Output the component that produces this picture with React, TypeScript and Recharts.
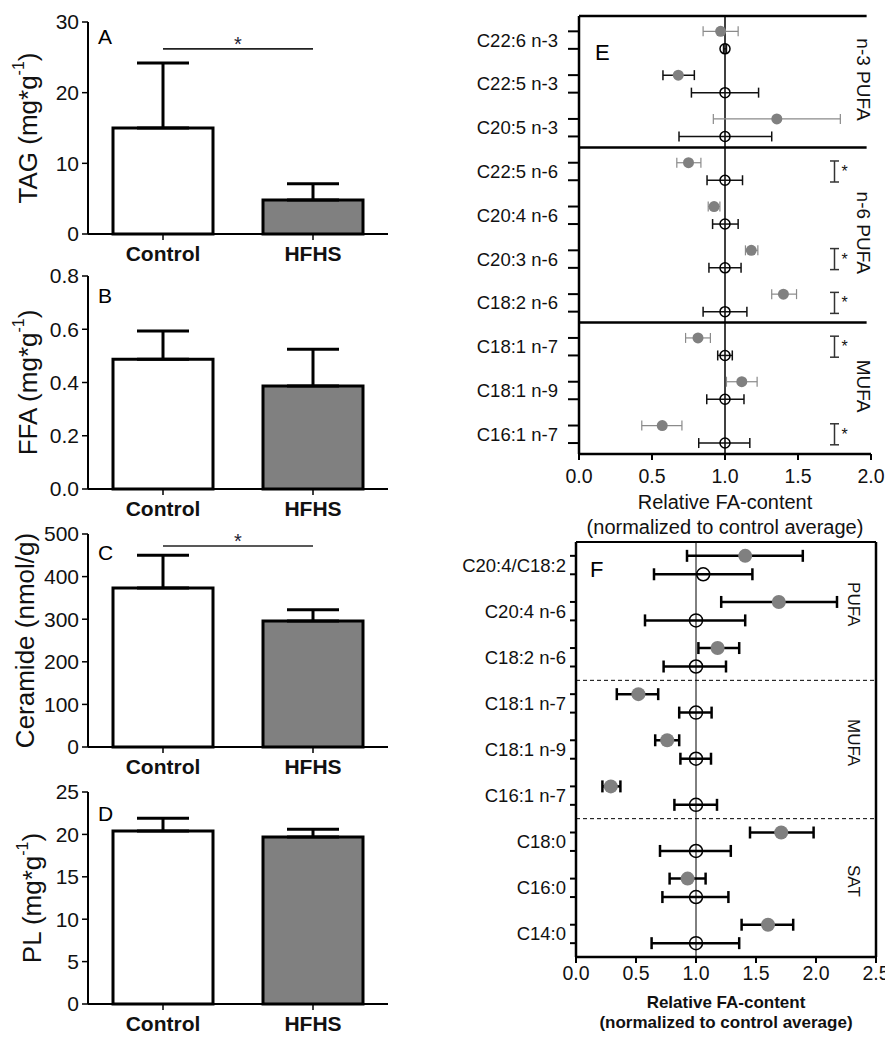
import React from 'react';
import {
  BarChart,
  Bar,
  XAxis,
  YAxis,
  Cell,
  ErrorBar,
  ReferenceLine,
  ScatterChart,
  Scatter,
  Customized,
} from 'recharts';

const FONT = '"Liberation Sans", Arial, sans-serif';
const INK = '#111';
const GREY = '#808080';

// panels A-D: group means and SEM (upper bar only)
const groups = ['Control', 'HFHS'];
const tagMean = [15.0, 4.8];
const tagSem = [9.2, 2.3];
const ffaMean = [0.487, 0.387];
const ffaSem = [0.106, 0.138];
const cerMean = [373, 296];
const cerSem = [77, 26];
const plMean = [20.4, 19.7];
const plSem = [1.5, 0.9];

// panel E: relative FA content in one lipid fraction
const eLabels = ['C22:6 n-3', 'C22:5 n-3', 'C20:5 n-3', 'C22:5 n-6', 'C20:4 n-6', 'C20:3 n-6', 'C18:2 n-6', 'C18:1 n-7', 'C18:1 n-9', 'C16:1 n-7'];
const eHfhs = [0.97, 0.68, 1.355, 0.75, 0.925, 1.18, 1.4, 0.815, 1.115, 0.57];
const eHfhsLo = [0.85, 0.575, 0.92, 0.67, 0.885, 1.14, 1.32, 0.73, 1.01, 0.43];
const eHfhsHi = [1.09, 0.79, 1.79, 0.835, 0.965, 1.225, 1.49, 0.9, 1.22, 0.705];
const eHfhsDarkBar = [false, true, false, false, false, false, false, false, false, false];
const eCtrl = [1, 1, 1, 1, 1, 1, 1, 1, 1, 1];
const eCtrlLo = [0.99, 0.77, 0.685, 0.877, 0.915, 0.89, 0.85, 0.95, 0.875, 0.82];
const eCtrlHi = [1.01, 1.23, 1.32, 1.12, 1.09, 1.11, 1.15, 1.05, 1.13, 1.17];
const eSig = [false, false, false, true, false, true, true, true, false, true];
const eGroups = [
  { name: 'n-3 PUFA', from: 0, to: 3 },
  { name: 'n-6 PUFA', from: 3, to: 7 },
  { name: 'MUFA', from: 7, to: 10 },
];

// panel F
const fLabels = ['C20:4/C18:2', 'C20:4 n-6', 'C18:2 n-6', 'C18:1 n-7', 'C18:1 n-9', 'C16:1 n-7', 'C18:0', 'C16:0', 'C14:0'];
const fHfhs = [1.41, 1.69, 1.18, 0.52, 0.76, 0.29, 1.71, 0.93, 1.6];
const fHfhsLo = [0.925, 1.21, 1.02, 0.34, 0.66, 0.22, 1.45, 0.78, 1.38];
const fHfhsHi = [1.89, 2.175, 1.36, 0.685, 0.86, 0.37, 1.98, 1.08, 1.81];
const fCtrl = [1.06, 1, 1, 1, 1, 1, 1, 1, 1];
const fCtrlLo = [0.65, 0.575, 0.73, 0.86, 0.87, 0.82, 0.7, 0.72, 0.63];
const fCtrlHi = [1.47, 1.41, 1.25, 1.13, 1.125, 1.175, 1.29, 1.27, 1.36];
const fGroups = [
  { name: 'PUFA', from: 0, to: 3 },
  { name: 'MUFA', from: 3, to: 6 },
  { name: 'SAT', from: 6, to: 9 },
];

const YTitle = (props: any) => {
  const vb = props.viewBox || { x: 0, y: 0, height: 0 };
  const cx = vb.x + props.lx;
  const cy = vb.y + vb.height / 2;
  return (
    <text
      transform={`translate(${cx},${cy}) rotate(-90)`}
      textAnchor="middle"
      dominantBaseline="central"
      fontSize={26}
      fill={INK}
    >
      {props.main}
      {props.sup ? (
        <>
          <tspan dy={-10} fontSize={16}>{props.sup}</tspan>
          <tspan dy={10}>)</tspan>
        </>
      ) : null}
    </text>
  );
};

type BarProps = {
  top: number;
  plotH: number;
  letter: string;
  letterDy: number;
  means: number[];
  sems: number[];
  domain: [number, number];
  ticks: number[];
  digits: number;
  title: string;
  sup?: string;
  lx: number;
  sig?: number;
};

function BarPanel({ top, plotH, letter, letterDy, means, sems, domain, ticks, digits, title, sup, lx, sig }: BarProps) {
  const data = groups.map((g, i) => ({ group: g, mean: means[i], err: [0, sems[i]] }));
  const mTop = 14;
  return (
    <div style={{ position: 'absolute', left: 0, top: top - mTop }}>
      <BarChart width={400} height={mTop + plotH + 34} data={data} margin={{ top: mTop, right: 12, left: 0, bottom: 0 }}>
        <XAxis
          dataKey="group"
          height={34}
          tickSize={6}
          tickMargin={6}
          axisLine={{ stroke: '#000', strokeWidth: 2 }}
          tickLine={{ stroke: '#000', strokeWidth: 1.5 }}
          tick={{ fontSize: 21, fontWeight: 'bold', fill: INK }}
        />
        <YAxis
          width={88}
          domain={domain}
          ticks={ticks}
          interval={0}
          tickSize={6}
          tickMargin={3}
          tickFormatter={(v: number) => v.toFixed(digits)}
          axisLine={{ stroke: '#000', strokeWidth: 2 }}
          tickLine={{ stroke: '#000', strokeWidth: 1.5 }}
          tick={{ fontSize: 21, fill: INK }}
          label={<YTitle main={sup ? `${title} (mg*g` : title} sup={sup} lx={lx} />}
        />
        <Bar dataKey="mean" barSize={100} stroke="#000" strokeWidth={3} isAnimationActive={false}>
          {data.map((d, i) => (
            <Cell key={d.group} fill={i === 0 ? '#fff' : GREY} />
          ))}
          <ErrorBar dataKey="err" direction="y" width={26} stroke="#000" strokeWidth={3} />
        </Bar>
        {sig !== undefined && (
          <ReferenceLine
            segment={[{ x: 'Control', y: sig }, { x: 'HFHS', y: sig }]}
            stroke="#222"
            strokeWidth={1.6}
            label={{ value: '*', position: 'center', dy: -5, fontSize: 20, fill: '#223' }}
          />
        )}
        <Customized
          component={() => (
            <text x={98} y={mTop + letterDy} dominantBaseline="central" fontSize={21} fill="#000">
              {letter}
            </text>
          )}
        />
      </BarChart>
    </div>
  );
}

const FaTick = (p: any) => {
  const v = p.payload.value;
  const i = Math.round(v - p.hOff);
  if (Math.abs(v - i - p.hOff) > 0.001) return <g />;
  return (
    <text x={p.x} y={p.y + p.dyPx} textAnchor="end" dominantBaseline="central" fontSize={18.5} fill={INK}>
      {p.labels[i]}
    </text>
  );
};

const AxisTitle = (props: any) => {
  const vb = props.viewBox || { x: 0, y: 0, width: 0 };
  const cx = vb.x + vb.width / 2;
  return (
    <g>
      {props.lines.map((l: string, k: number) => (
        <text
          key={l}
          x={cx}
          y={vb.y + props.y0 + k * props.gap}
          textAnchor="middle"
          dominantBaseline="central"
          fontSize={props.size}
          fontWeight={props.bold ? 'bold' : 'normal'}
          fill={INK}
        >
          {l}
        </text>
      ))}
    </g>
  );
};

function rows(means: number[], lo: number[], hi: number[], off: number) {
  return means.map((m, i) => ({ x: m, y: i + off, err: [m - lo[i], hi[i] - m] }));
}

function PanelE() {
  const H = 0.35;
  const C = 0.75;
  const n = eLabels.length;
  const hAll = rows(eHfhs, eHfhsLo, eHfhsHi, H);
  const hGrey = hAll.filter((_, i) => !eHfhsDarkBar[i]);
  const hDark = hAll.filter((_, i) => eHfhsDarkBar[i]);
  const cRows = rows(eCtrl, eCtrlLo, eCtrlHi, C);
  const sigRows = eSig.map((s, i) => (s ? { x: 1.75, y: i + (H + C) / 2, err: 0.24 } : null)).filter(Boolean) as any[];
  const grpRows = eGroups.map((g) => ({ x: 1.95, y: (g.from + g.to) / 2 - 0.05, name: g.name }));
  const ticks = eLabels.flatMap((_, i) => [i + H, i + C]);
  const unit = 438 / n;
  const dot = (p: any) => <circle cx={p.cx} cy={p.cy} r={5.5} fill={GREY} />;
  return (
    <div style={{ position: 'absolute', left: 460, top: 0 }}>
      <ScatterChart width={433} height={546} margin={{ top: 16, right: 22, left: 0, bottom: 0 }}>
        <XAxis
          type="number"
          dataKey="x"
          domain={[0, 2]}
          ticks={[0, 0.5, 1, 1.5, 2]}
          interval={0}
          height={92}
          tickSize={6}
          tickMargin={9}
          tickFormatter={(v: number) => v.toFixed(1)}
          axisLine={{ stroke: '#000', strokeWidth: 2.5 }}
          tickLine={{ stroke: '#000', strokeWidth: 2 }}
          tick={{ fontSize: 19.5, fill: INK }}
          label={<AxisTitle lines={['Relative FA-content', '(normalized to control average)']} y0={48} gap={25} size={20} />}
        />
        <YAxis
          type="number"
          dataKey="y"
          domain={[0, n]}
          reversed
          ticks={ticks}
          interval={0}
          width={119}
          tickSize={11}
          tickMargin={10}
          axisLine={{ stroke: '#000', strokeWidth: 2.5 }}
          tickLine={{ stroke: '#000', strokeWidth: 2 }}
          tick={(p: any) => <FaTick {...p} labels={eLabels} hOff={H} dyPx={((C - H) / 2) * unit} />}
        />
        <ReferenceLine x={1} stroke="#000" strokeWidth={1.5} />
        {[0, 3, 7].map((b) => (
          <ReferenceLine key={b} segment={[{ x: 0, y: b }, { x: 1.97, y: b }]} stroke="#000" strokeWidth={2.5} />
        ))}
        <Scatter
          data={cRows}
          isAnimationActive={false}
          shape={(p: any) => <circle cx={p.cx} cy={p.cy} r={5} fill="none" stroke="#000" strokeWidth={1.5} />}
        >
          <ErrorBar dataKey="err" direction="x" width={5} stroke="#111" strokeWidth={1.5} />
        </Scatter>
        <Scatter data={hGrey} isAnimationActive={false} shape={dot}>
          <ErrorBar dataKey="err" direction="x" width={5} stroke="#8a8a8a" strokeWidth={1.2} />
        </Scatter>
        <Scatter data={hDark} isAnimationActive={false} shape={dot}>
          <ErrorBar dataKey="err" direction="x" width={5} stroke="#111" strokeWidth={1.5} />
        </Scatter>
        <Scatter
          data={sigRows}
          isAnimationActive={false}
          shape={(p: any) => (
            <text x={p.cx + 7} y={p.cy} dominantBaseline="central" fontSize={16} fill="#111">
              *
            </text>
          )}
        >
          <ErrorBar dataKey="err" direction="y" width={4.5} stroke="#333" strokeWidth={1.5} />
        </Scatter>
        <Scatter
          data={grpRows}
          isAnimationActive={false}
          shape={(p: any) => (
            <text
              transform={`translate(${p.cx},${p.cy}) rotate(90)`}
              textAnchor="middle"
              dominantBaseline="central"
              fontSize={19}
              fill={INK}
            >
              {p.payload.name}
            </text>
          )}
        />
        <Customized
          component={() => (
            <text x={135} y={52} dominantBaseline="central" fontSize={22} fill="#000">
              E
            </text>
          )}
        />
      </ScatterChart>
    </div>
  );
}

function PanelF() {
  const H = 0.3;
  const C = 0.7;
  const n = fLabels.length;
  const hRows = rows(fHfhs, fHfhsLo, fHfhsHi, H);
  const cRows = rows(fCtrl, fCtrlLo, fCtrlHi, C);
  const grpRows = fGroups.map((g) => ({ x: 2.31, y: (g.from + g.to) / 2 - 0.15, name: g.name }));
  const ticks = fLabels.flatMap((_, i) => [i + H, i + C]);
  const unit = 415 / n;
  return (
    <div style={{ position: 'absolute', left: 460, top: 530 }}>
      <ScatterChart width={433} height={509} margin={{ top: 12, right: 17, left: 0, bottom: 0 }}>
        <XAxis
          type="number"
          dataKey="x"
          domain={[0, 2.5]}
          ticks={[0, 0.5, 1, 1.5, 2, 2.5]}
          interval={0}
          height={82}
          tickSize={6}
          tickMargin={3}
          tickFormatter={(v: number) => v.toFixed(1)}
          axisLine={{ stroke: '#000', strokeWidth: 2.5 }}
          tickLine={{ stroke: '#000', strokeWidth: 2 }}
          tick={{ fontSize: 19.5, fill: INK }}
          label={<AxisTitle lines={['Relative FA-content', '(normalized to control average)']} y0={45} gap={20} size={17} bold />}
        />
        <YAxis
          type="number"
          dataKey="y"
          domain={[0, n]}
          reversed
          ticks={ticks}
          interval={0}
          width={116}
          tickSize={6}
          tickMargin={4}
          axisLine={{ stroke: '#000', strokeWidth: 2.5 }}
          tickLine={{ stroke: '#000', strokeWidth: 2 }}
          tick={(p: any) => <FaTick {...p} labels={fLabels} hOff={H} dyPx={((C - H) / 2) * unit} />}
        />
        <ReferenceLine y={0} stroke="#000" strokeWidth={2} />
        <ReferenceLine x={2.5} stroke="#000" strokeWidth={2.5} />
        <ReferenceLine x={1} stroke="#000" strokeWidth={1} />
        {[3, 6].map((b) => (
          <ReferenceLine key={b} y={b} stroke="#000" strokeWidth={1} strokeDasharray="4 3" />
        ))}
        <Scatter
          data={cRows}
          isAnimationActive={false}
          shape={(p: any) => <circle cx={p.cx} cy={p.cy} r={6.5} fill="none" stroke="#000" strokeWidth={1.5} />}
        >
          <ErrorBar dataKey="err" direction="x" width={6} stroke="#000" strokeWidth={2.5} />
        </Scatter>
        <Scatter
          data={hRows}
          isAnimationActive={false}
          shape={(p: any) => <circle cx={p.cx} cy={p.cy} r={7} fill={GREY} />}
        >
          <ErrorBar dataKey="err" direction="x" width={6} stroke="#000" strokeWidth={2.5} />
        </Scatter>
        <Scatter
          data={grpRows}
          isAnimationActive={false}
          shape={(p: any) => (
            <text
              transform={`translate(${p.cx},${p.cy}) rotate(90)`}
              textAnchor="middle"
              dominantBaseline="central"
              fontSize={17}
              fill={INK}
            >
              {p.payload.name}
            </text>
          )}
        />
        <Customized
          component={() => (
            <text x={130} y={39} dominantBaseline="central" fontSize={22} fill="#000">
              F
            </text>
          )}
        />
      </ScatterChart>
    </div>
  );
}

export default function App() {
  return (
    <div style={{ position: 'relative', width: 893, height: 1039, margin: -8, background: '#fff', fontFamily: FONT }}>
      <BarPanel top={22} plotH={212} letter="A" letterDy={14} means={tagMean} sems={tagSem} domain={[0, 30]} ticks={[0, 10, 20, 30]} digits={0} title="TAG" sup="-1" lx={28} sig={26.2} />
      <BarPanel top={276} plotH={213} letter="B" letterDy={19} means={ffaMean} sems={ffaSem} domain={[0, 0.8]} ticks={[0, 0.2, 0.4, 0.6, 0.8]} digits={1} title="FFA" sup="-1" lx={28} />
      <BarPanel top={534} plotH={213} letter="C" letterDy={18} means={cerMean} sems={cerSem} domain={[0, 500]} ticks={[0, 100, 200, 300, 400, 500]} digits={0} title="Ceramide (nmol/g)" lx={25} sig={472} />
      <BarPanel top={792} plotH={212} letter="D" letterDy={21} means={plMean} sems={plSem} domain={[0, 25]} ticks={[0, 5, 10, 15, 20, 25]} digits={0} title="PL" sup="-1" lx={32} />
      <PanelE />
      <PanelF />
    </div>
  );
}
